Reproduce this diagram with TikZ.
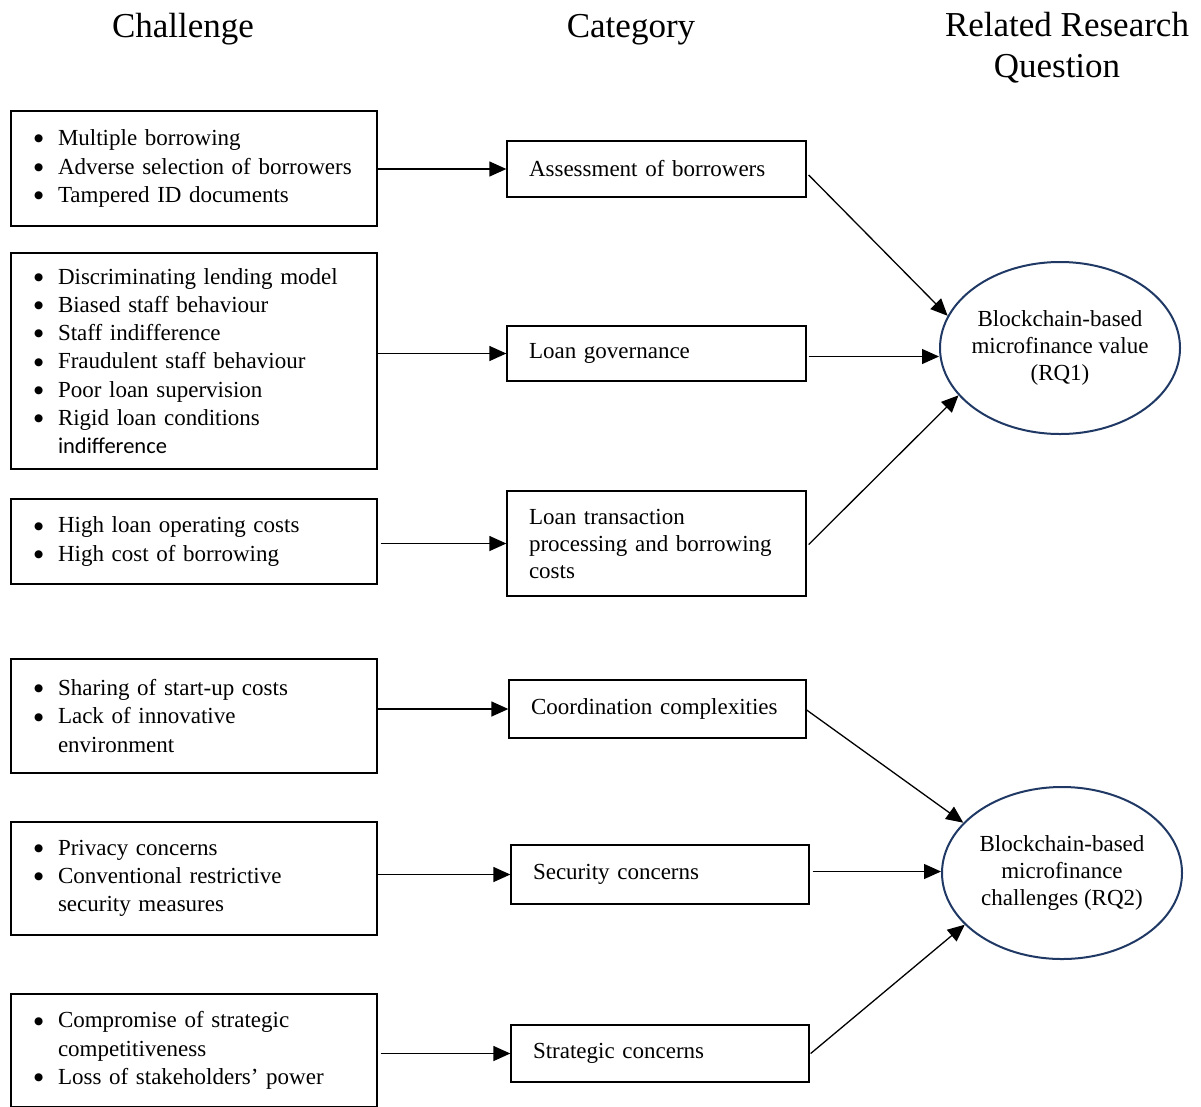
\documentclass[tikz,border=0pt]{standalone}
\usepackage{fontspec}
\setmainfont{Liberation Serif}
\newfontfamily\indfont{Carlito}
\newfontfamily\symfont{DejaVu Sans}
\usetikzlibrary{arrows.meta,shapes.geometric}
\definecolor{ellc}{HTML}{1F3864}
\newcommand{\bigbul}{\raisebox{3.8pt}{\symfont\fontsize{10.5}{10.5}\selectfont ●}}
\newcommand{\bitem}[1]{\mbox{\hspace*{-5pt}\makebox[24pt][l]{\bigbul}#1}}
\newcommand{\bcont}[1]{\mbox{\hspace*{19pt}#1}}
\begin{document}
\begin{tikzpicture}[x=1pt,y=-1pt,
  title/.style={font=\fontsize{35}{41}\selectfont, align=center, inner sep=0pt},
  lbox/.style={draw, line width=1.3pt, minimum width=366pt, text width=310pt, inner xsep=28pt, inner ysep=0pt, align=left, font=\fontsize{23}{28.3}\selectfont},
  cbox/.style={draw, line width=1.3pt, minimum width=299pt, text width=255pt, inner xsep=22pt, inner ysep=0pt, align=left, font=\fontsize{23}{27}\selectfont},
  rq/.style={draw=ellc, line width=2pt, ellipse, minimum width=240pt, minimum height=172pt, inner sep=0pt},
  rqtext/.style={align=center, inner sep=0pt, font=\fontsize{23}{27}\selectfont},
  arr/.style={line width=1.3pt, -{Triangle[length=17pt,width=15pt]}}]
\useasboundingbox (0,0) rectangle (1201,1106);

% titles
\node[title, anchor=base] (t1) at (183,37) {Challenge};
\node[title, anchor=base] (t2) at (631,37) {Category};
\node[title, anchor=base] (t3) at (1067,36) {Related Research};
\node[title, anchor=base] (t4) at (1057,77) {Question};

% left boxes
\node[lbox, minimum height=115pt] (b1) at (194,168.5) {\bitem{Multiple borrowing}\\ \bitem{Adverse selection of borrowers}\\ \bitem{Tampered ID documents}};
\node[lbox, minimum height=216pt] (b2) at (194,361) {\bitem{Discriminating lending model}\\ \bitem{Biased staff behaviour}\\ \bitem{Staff indifference}\\ \bitem{Fraudulent staff behaviour}\\ \bitem{Poor loan supervision}\\ \bitem{Rigid loan conditions}\\ \bcont{\indfont\fontsize{22.5}{28.3}\selectfont indifference}};
\node[lbox, minimum height=85pt] (b3) at (194,541.5) {\bitem{High loan operating costs}\\ \bitem{High cost of borrowing}};
\node[lbox, minimum height=114pt] (b4) at (194,716) {\bitem{Sharing of start-up costs}\\ \bitem{Lack of innovative}\\ \bcont{environment}};
\node[lbox, minimum height=113pt] (b5) at (194,878.5) {\bitem{Privacy concerns}\\ \bitem{Conventional restrictive}\\ \bcont{security measures}};
\node[lbox, minimum height=113pt] (b6) at (194,1050.5) {\bitem{Compromise of strategic}\\ \bcont{competitiveness}\\ \bitem{Loss of stakeholders’ power}};

% category boxes
\node[cbox, minimum height=56pt] (c1) at (656.5,169) {Assessment of borrowers};
\node[cbox, minimum height=55pt] (c2) at (656.5,353.5) {Loan governance};
\node[cbox, minimum height=105pt] (c3) at (656.5,543.5) {Loan transaction\\ processing and borrowing\\ costs};
\node[cbox, minimum height=58pt, minimum width=297pt, text width=253pt] (c4) at (657.5,709) {Coordination complexities};
\node[cbox, minimum height=59pt, minimum width=298pt, text width=254pt] (c5) at (660,874.5) {Security concerns};
\node[cbox, minimum height=57pt, minimum width=298pt, text width=254pt] (c6) at (660,1053.5) {Strategic concerns};

% research question ellipses
\node[rq, label={[rqtext]center:{Blockchain-based\\ microfinance value\\ (RQ1)}}] (e1) at (1060,348) {};
\node[rq, label={[rqtext]center:{Blockchain-based\\ microfinance\\ challenges (RQ2)}}] (e2) at (1062,873) {};

% arrows challenge -> category
\draw[arr] (c1.west -| b1.east) -- (c1.west);
\draw[arr] (c2.west -| b2.east) -- (c2.west);
\draw[arr] ([xshift=3pt]c3.west -| b3.east) -- (c3.west);
\draw[arr] (c4.west -| b4.east) -- (c4.west);
\draw[arr] (c5.west -| b5.east) -- (c5.west);
\draw[arr] ([xshift=3pt]c6.west -| b6.east) -- (c6.west);

% arrows category -> RQ
\draw[arr] ([shift={(2,6)}]c1.east) -- (e1.164);
\draw[arr] ([shift={(2,3)}]c2.east) -- ([shift={(0,3)}]c2.east -| e1.west);
\draw[arr] ([shift={(2,1)}]c3.east) -- (e1.205);
\draw[arr] ([shift={(0,1)}]c4.east) -- (e2.153);
\draw[arr] ([shift={(3,-3)}]c5.east) -- ([shift={(0,-3)}]c5.east -| e2.west);
\draw[arr] ([shift={(1,0)}]c6.east) -- (e2.208);
\end{tikzpicture}
\end{document}
